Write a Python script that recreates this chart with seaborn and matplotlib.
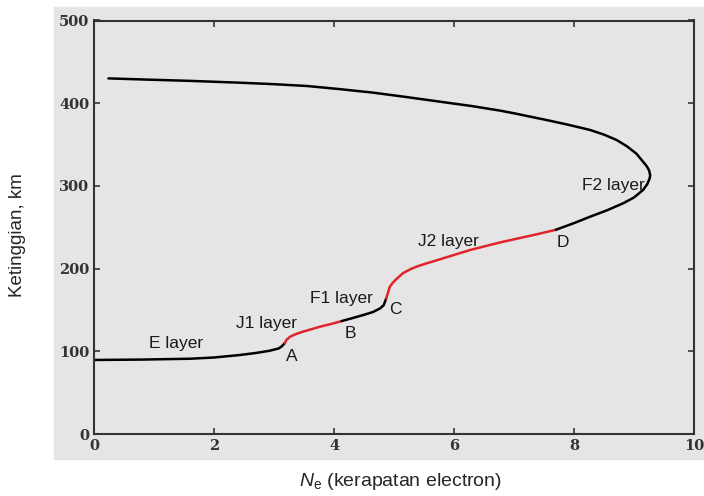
import matplotlib
matplotlib.use("Agg")
import matplotlib.pyplot as plt
import seaborn as sns
import pandas as pd
from matplotlib.patches import Rectangle

# profile, split into the layer segments
e_x = [0.0, 0.8, 1.6, 2.0, 2.43, 2.7, 2.93, 3.08, 3.13, 3.18]
e_y = [89.5, 90, 91, 92.5, 95.5, 98, 100.7, 103.5, 106, 110]

j1_x = [3.18, 3.21, 3.27, 3.37, 3.48, 3.77, 3.95, 4.13]
j1_y = [110, 114, 117.7, 121, 123.7, 129.8, 133, 136.6]

f1_x = [4.13, 4.3, 4.49, 4.65, 4.77, 4.83, 4.87]
f1_y = [136.6, 140, 143.9, 147.5, 152, 156, 164]

j2_x = [4.87, 4.9, 4.93, 4.98, 5.05, 5.15, 5.28, 5.4, 5.55, 5.71, 6.0, 6.27,
        6.55, 6.82, 7.1, 7.38, 7.7]
j2_y = [164, 171, 178, 183, 188, 194.5, 199.5, 203, 206.5, 210, 216.5, 222.5,
        227.7, 232.5, 237, 241.5, 247]

f2_x = [7.7, 8.0, 8.27, 8.55, 8.82, 9.0, 9.15, 9.22, 9.26, 9.27, 9.25, 9.21,
        9.12, 9.04, 8.88, 8.71, 8.5, 8.27, 7.9, 7.54, 7.0, 6.77, 6.3, 5.77,
        5.2, 4.66, 4.1, 3.55, 3.0, 2.43, 1.6, 0.9, 0.24]
f2_y = [247, 255, 262.8, 270.5, 279, 286, 295, 302, 309, 313, 319, 324,
        332, 339, 348, 355.5, 362, 367.6, 374, 379.7, 387.8, 391, 396.5, 401.8,
        407.5, 412.7, 417, 420.8, 423, 424.8, 427, 428.5, 430]

layer_names = ["E layer", "J1 layer", "F1 layer", "J2 layer", "F2 layer"]
layer_x = [1.37, 2.87, 4.13, 5.9, 8.65]
layer_y = [110, 134, 164, 233, 300]

point_names = ["A", "B", "C", "D"]
point_x = [3.3, 4.27, 5.03, 7.82]
point_y = [94, 121, 150, 231]

grey = "#e5e5e5"
red = "#e3232c"

sns.set_style("ticks")
plt.rcParams["font.family"] = ["Liberation Sans", "DejaVu Sans"]
plt.rcParams["mathtext.fontset"] = "custom"
plt.rcParams["mathtext.rm"] = "Liberation Sans"
plt.rcParams["mathtext.it"] = "Liberation Sans:italic"

fig = plt.figure(figsize=(7.04, 4.96), dpi=100)
fig.patches.append(Rectangle((54 / 704, 1 - 459 / 496), 650 / 704, 452 / 496,
                             transform=fig.transFigure, color=grey, zorder=-10))
ax = fig.add_axes([94 / 704, 1 - 434 / 496, 600 / 704, 413.5 / 496])
ax.set_facecolor(grey)

segments = [(e_x, e_y, "black"), (j1_x, j1_y, red), (f1_x, f1_y, "black"),
            (j2_x, j2_y, red), (f2_x, f2_y, "black")]
for xs, ys, c in segments:
    df = pd.DataFrame({"x": xs, "y": ys})
    sns.lineplot(data=df, x="x", y="y", sort=False, estimator=None,
                 color=c, linewidth=1.8, ax=ax)

for name, x, y in zip(layer_names, layer_x, layer_y):
    ax.text(x, y, name, ha="center", va="center", fontsize=12.5,
            color="#1a1a1a")
for name, x, y in zip(point_names, point_x, point_y):
    ax.text(x, y, name, ha="center", va="center", fontsize=12.5,
            color="#1a1a1a")

ax.set_xlim(0, 10)
ax.set_ylim(0, 500)
ax.set_xticks([0, 2, 4, 6, 8, 10])
ax.set_yticks([0, 100, 200, 300, 400, 500])
ax.tick_params(direction="in", length=4, width=1.2, top=True, right=True,
               colors="#333333", labelcolor="#333333", labelsize=10.5)
for lab in ax.get_xticklabels() + ax.get_yticklabels():
    lab.set_fontfamily("DejaVu Serif")
    lab.set_fontweight("bold")
for s in ax.spines.values():
    s.set_visible(True)
    s.set_linewidth(1.5)
    s.set_color("#333333")

ax.set_xlabel("")
ax.set_ylabel("")
fig.text(18 / 704, 1 - 235 / 496, "Ketinggian, km", rotation=90,
         ha="center", va="center", fontsize=13.5)
fig.text(400 / 704, 1 - 482 / 496, r"$\mathit{N}_{\mathrm{e}}$ (kerapatan electron)",
         ha="center", va="center", fontsize=14)

fig.savefig("out.png", dpi=100)
